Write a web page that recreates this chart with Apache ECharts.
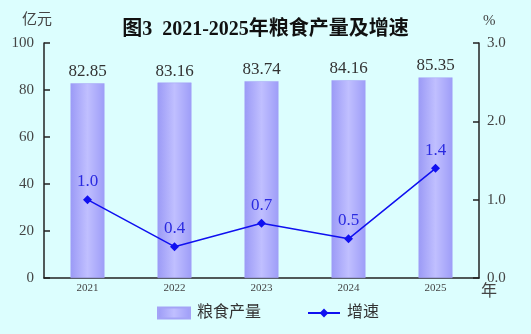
<!DOCTYPE html>
<html>
<head>
<meta charset="utf-8">
<script src="https://cdn.jsdelivr.net/npm/echarts@6/dist/echarts.min.js"></script>
<style>
  html, body { margin: 0; padding: 0; background: #dcfefe; }
  #chart { width: 531px; height: 334px; }
</style>
</head>
<body>
<div id="chart"></div>
<script>
const years = ['2021', '2022', '2023', '2024', '2025'];
const output = [82.85, 83.16, 83.74, 84.16, 85.35];   // 粮食产量 (亿元)
const growth = [1.0, 0.4, 0.7, 0.5, 1.4];             // 增速 (%)
const leftTicks = { min: 0, max: 100, interval: 20 };
const rightTicks = { min: 0, max: 3, interval: 1 };

const serif = '"Liberation Serif", "DejaVu Serif", "Noto Sans CJK SC", serif';
const axisColor = '#222';

const chart = echarts.init(document.getElementById('chart'), null, { renderer: 'canvas' });
chart.setOption({
  backgroundColor: '#dcfefe',
  animation: false,
  title: {
    text: '图3  2021-2025年粮食产量及增速',
    left: 'center',
    top: 15,
    textStyle: { fontFamily: serif, fontSize: 20, fontWeight: 'bold', color: '#111' }
  },
  graphic: [
    { type: 'text', left: 22, top: 13, style: { text: '亿元', font: '15px ' + serif, fill: '#444' } },
    { type: 'text', left: 483, top: 14, style: { text: '%', font: '15px ' + serif, fill: '#444' } },
    { type: 'text', left: 481, top: 284, style: { text: '年', font: '16px ' + serif, fill: '#444' } }
  ],
  legend: {
    top: 300,
    left: 152,
    itemGap: 46,
    itemWidth: 32,
    itemHeight: 11,
    textStyle: { fontFamily: serif, fontSize: 16, color: '#333', padding: [0, 0, 0, 2] },
    data: [
      { name: '粮食产量', icon: 'rect' },
      { name: '增速' }
    ]
  },
  grid: { left: 44, right: 52, top: 43, bottom: 56, containLabel: false },
  xAxis: {
    type: 'category',
    data: years,
    boundaryGap: true,
    axisLine: { lineStyle: { color: axisColor, width: 1.5 } },
    axisTick: { inside: true, length: 6, lineStyle: { color: axisColor, width: 1.5 } },
    axisLabel: { fontFamily: serif, fontSize: 11, color: '#444', margin: 5 }
  },
  yAxis: [
    {
      type: 'value',
      min: leftTicks.min, max: leftTicks.max, interval: leftTicks.interval,
      splitLine: { show: false },
      axisLine: { show: true, lineStyle: { color: axisColor, width: 1.5 } },
      axisTick: { show: true, inside: true, length: 6, lineStyle: { color: axisColor, width: 1.5 } },
      axisLabel: { fontFamily: serif, fontSize: 15, color: '#444', margin: 10 }
    },
    {
      type: 'value',
      min: rightTicks.min, max: rightTicks.max, interval: rightTicks.interval,
      splitLine: { show: false },
      axisLine: { show: true, lineStyle: { color: axisColor, width: 1.5 } },
      axisTick: { show: true, inside: true, length: 6, lineStyle: { color: axisColor, width: 1.5 } },
      axisLabel: { fontFamily: serif, fontSize: 15, color: '#444', margin: 8,
        formatter: v => v.toFixed(1) }
    }
  ],
  series: [
    {
      name: '粮食产量',
      type: 'bar',
      data: output,
      barWidth: 34,
      itemStyle: {
        color: new echarts.graphic.LinearGradient(0, 0, 1, 0, [
          { offset: 0, color: '#9b9af6' },
          { offset: 0.5, color: '#c0bfff' },
          { offset: 1, color: '#9e9df8' }
        ]),
        borderColor: '#a4a3f6',
        borderWidth: 0.5
      },
      label: {
        show: true, position: 'top', distance: 3,
        fontFamily: serif, fontSize: 17, color: '#333',
        formatter: p => p.value.toFixed(2)
      }
    },
    {
      name: '增速',
      type: 'line',
      yAxisIndex: 1,
      data: growth,
      symbol: 'diamond',
      symbolSize: 9,
      lineStyle: { color: '#1010f0', width: 1.5 },
      itemStyle: { color: '#1010f0' },
      label: {
        show: true, position: 'top', distance: 5,
        fontFamily: serif, fontSize: 17, color: '#2a2ae0',
        formatter: p => p.value.toFixed(1)
      }
    }
  ]
});
</script>
</body>
</html>
